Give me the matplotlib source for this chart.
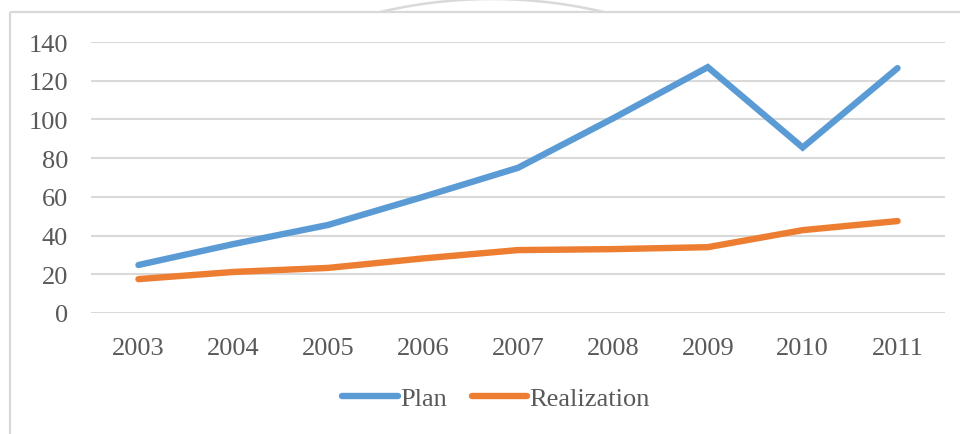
import matplotlib
matplotlib.use("Agg")
import matplotlib.pyplot as plt
from matplotlib.patches import Arc, Rectangle

years = ["2003", "2004", "2005", "2006", "2007", "2008", "2009", "2010", "2011"]
plan = [24.8, 35.6, 45.5, 60.0, 75.0, 100.5, 127.0, 85.5, 126.5]
realization = [17.5, 21.2, 23.3, 28.2, 32.5, 33.0, 34.0, 42.8, 47.5]
series_names = ["Plan", "Realization"]
yticks = [0, 20, 40, 60, 80, 100, 120, 140]

plt.rcParams['font.family'] = ['Liberation Serif', 'DejaVu Serif']
TXT = '#595959'
GRID = '#d9d9d9'

fig = plt.figure(figsize=(9.6, 4.35), dpi=100)
fig.patch.set_facecolor('white')

# decorative frame and arc in pixel coordinates
deco = fig.add_axes([0, 0, 1, 1], zorder=-1)
deco.set_xlim(0, 960)
deco.set_ylim(435, 0)
deco.axis('off')
deco.add_patch(Rectangle((10, 13), 1000, 500, fill=False, edgecolor=GRID, lw=1.6))
arc = Arc((492, 486), 972, 972, theta1=240, theta2=300, edgecolor=GRID, lw=1.8)
deco.add_patch(arc)
clip = Rectangle((0, -5), 960, 18, transform=deco.transData)
arc.set_clip_path(clip)

ax = fig.add_axes([91/960, 1-314/435, (945-91)/960, (314-43)/435])
x = list(range(len(years)))
ax.plot(x, plan, color='#5b9bd5', lw=4.6, solid_joinstyle='miter', solid_capstyle='round', label=series_names[0])
ax.plot(x, realization, color='#ed7d31', lw=4.6, solid_joinstyle='miter', solid_capstyle='round', label=series_names[1])

ax.set_xlim(-0.5, len(years) - 0.5)
ax.set_ylim(0, 140)
ax.set_yticks(yticks)
ax.set_xticks(x)
ax.set_xticklabels(years)
ax.grid(axis='y', color=GRID, lw=1.5)
ax.set_axisbelow(True)
for s in ax.spines.values():
    s.set_visible(False)
ax.tick_params(axis='both', length=0, labelsize=19, labelcolor=TXT)
ax.tick_params(axis='y', pad=16.5)
ax.tick_params(axis='x', pad=17)

leg = fig.legend(loc='center', bbox_to_anchor=(496/960, 1-399/435), ncol=2, frameon=False,
                 fontsize=19, handlelength=2.1, handletextpad=0.08, columnspacing=0.95)
for t in leg.get_texts():
    t.set_color(TXT)

fig.savefig('out.png', dpi=100, facecolor='white')
